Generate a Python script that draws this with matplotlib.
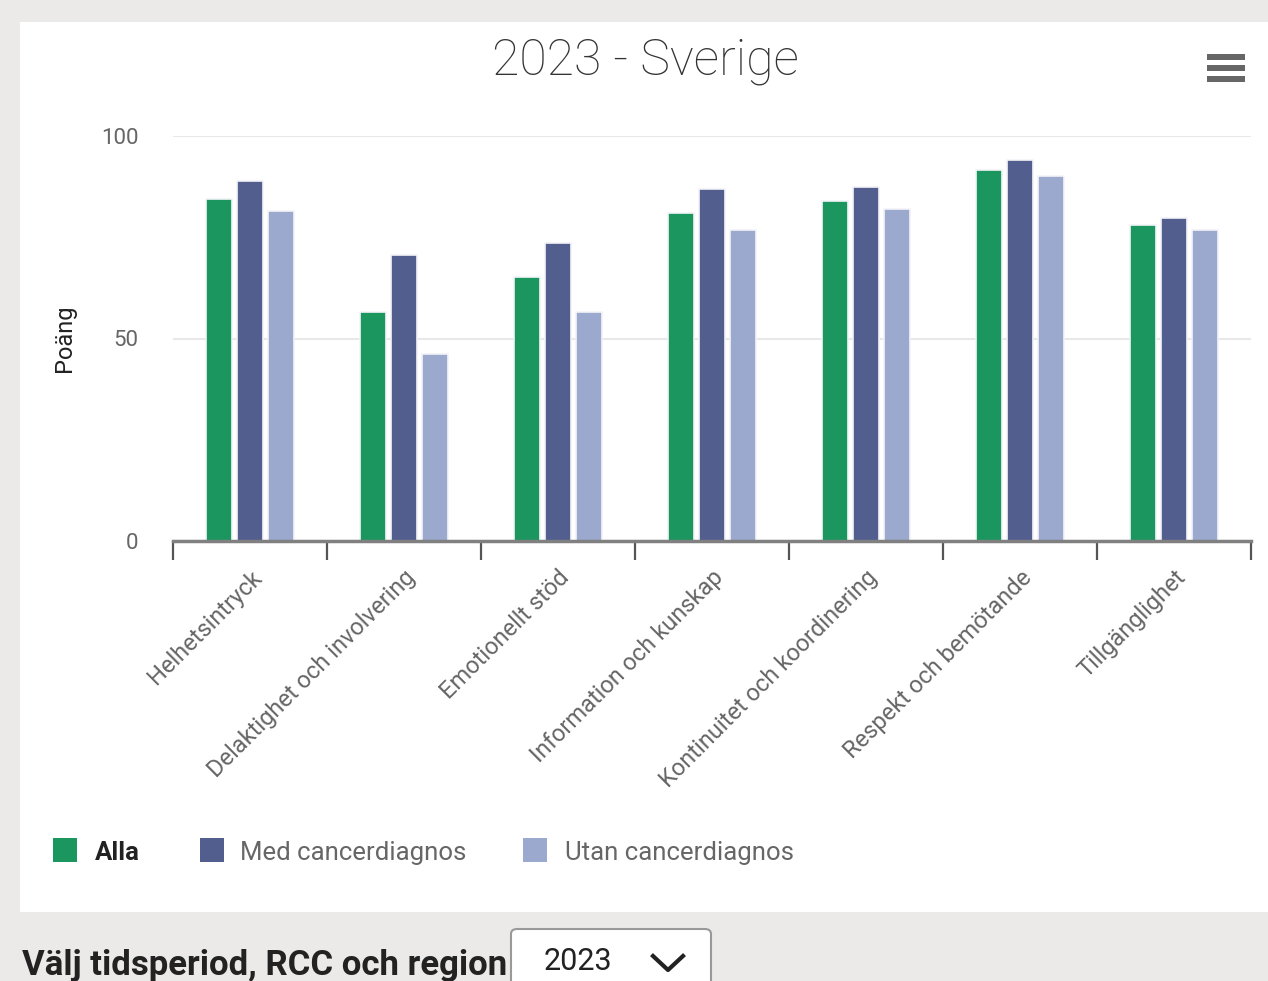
import numpy as np
import matplotlib
matplotlib.use('Agg')
import matplotlib.pyplot as plt
from matplotlib.patches import Rectangle, FancyBboxPatch

plt.rcParams['font.family'] = ['Roboto', 'DejaVu Sans']

# data
categories = ['Helhetsintryck', 'Delaktighet och involvering', 'Emotionellt stöd',
              'Information och kunskap', 'Kontinuitet och koordinering',
              'Respekt och bemötande', 'Tillgänglighet']
alla = [84.4, 56.5, 65.2, 81.0, 84.0, 91.6, 78.0]
med_cancer = [88.9, 70.6, 73.6, 86.9, 87.4, 94.1, 79.8]
utan_cancer = [81.5, 46.2, 56.5, 76.8, 82.0, 90.1, 76.8]
series_names = ['Alla', 'Med cancerdiagnos', 'Utan cancerdiagnos']
colors = ['#1b965f', '#525e8d', '#9aa9cd']

W, H = 1268, 981
fig = plt.figure(figsize=(W / 100, H / 100), dpi=100)
fig.patch.set_facecolor('#ebeae8')

# white chart panel
fig.patches.append(Rectangle((20 / W, (H - 912) / H), (W - 20) / W, 890 / H,
                             transform=fig.transFigure, facecolor='white',
                             edgecolor='none', zorder=-5))

ax = fig.add_axes([173 / W, (H - 541) / H, (1251 - 173) / W, (541 - 136) / H])
ax.set_facecolor('none')
ax.set_zorder(2)

x = np.arange(len(categories))
width = 0.17
offset = 0.2
for i, (vals, c) in enumerate(zip([alla, med_cancer, utan_cancer], colors)):
    ax.bar(x + (i - 1) * offset, vals, width, color=c, edgecolor='#f3f4f8',
           linewidth=1.2, zorder=3)

ax.set_xlim(-0.5, len(categories) - 0.5)
ax.set_ylim(0, 100)
ax.set_yticks([0, 50, 100])
ax.set_yticklabels(['0', '50', '100'], fontsize=16, color='#666666')
ax.tick_params(axis='y', length=0, pad=25)
ax.grid(axis='y', color='#e8e8e8', linewidth=1.5, zorder=0)

# category boundaries as major ticks, names on minor ticks
ax.set_xticks(np.arange(len(categories) + 1) - 0.5)
ax.set_xticklabels([])
ax.tick_params(axis='x', which='major', length=14, width=1.6, color='#555555',
               direction='out')
ax.set_xticks(x, minor=True)
ax.set_xticklabels(categories, minor=True, rotation=45, ha='right',
                   rotation_mode='anchor', fontsize=17, color='#666666')
ax.tick_params(axis='x', which='minor', length=0, pad=18)

for s in ['top', 'right', 'left']:
    ax.spines[s].set_visible(False)
ax.spines['bottom'].set_color('#808080')
ax.spines['bottom'].set_linewidth(2.5)
ax.spines['bottom'].set_zorder(4)

ax.set_ylabel('Poäng', fontsize=17, color='#222222', labelpad=18)

# title
fig.text(645 / W, 1 - 61 / H, '2023 - Sverige', ha='center', va='center',
         fontsize=36, color='#333333', fontweight='light')

# hamburger menu icon
for yy in [57, 68, 79]:
    fig.patches.append(Rectangle((1207 / W, 1 - (yy + 3) / H), 38 / W, 6 / H,
                                 transform=fig.transFigure, facecolor='#666666',
                                 edgecolor='none'))

# legend
leg_x = [53, 200, 523]
text_x = [95, 240, 565]
text_col = ['#222222', '#666666', '#666666']
weights = ['bold', 'normal', 'normal']
for lx, tx, c, name, tc, fw in zip(leg_x, text_x, colors, series_names, text_col, weights):
    fig.patches.append(Rectangle((lx / W, 1 - 862 / H), 24 / W, 24 / H,
                                 transform=fig.transFigure, facecolor=c,
                                 edgecolor='none'))
    fig.text(tx / W, 1 - 853 / H, name, ha='left', va='center', fontsize=18.5,
             color=tc, fontweight=fw)

# bottom control
fig.text(22 / W, 1 - 965 / H, 'Välj tidsperiod, RCC och region', ha='left',
         va='center', fontsize=25, color='#222222', fontweight='bold')
fig.patches.append(FancyBboxPatch((511 / W, 1 - 995 / H), 200 / W, 66 / H,
                                  boxstyle='round,pad=0,rounding_size=0.005',
                                  transform=fig.transFigure, facecolor='white',
                                  edgecolor='#999999', linewidth=1.5))
fig.text(578 / W, 1 - 962 / H, '2023', ha='center', va='center', fontsize=22,
         color='#222222')
fig.lines.append(plt.Line2D([653 / W, 668 / W, 683 / W],
                            [1 - 956 / H, 1 - 970 / H, 1 - 956 / H],
                            transform=fig.transFigure, color='#222222',
                            linewidth=3))

fig.savefig('out.png', dpi=100, facecolor=fig.get_facecolor())
